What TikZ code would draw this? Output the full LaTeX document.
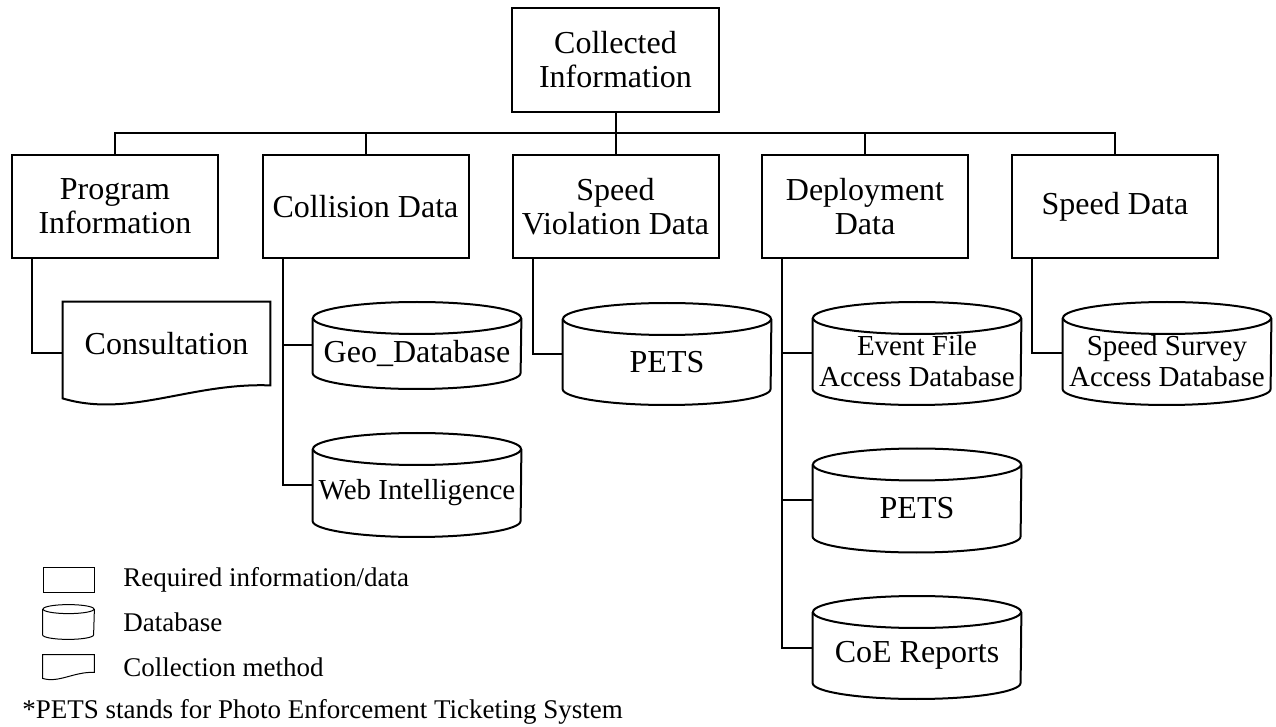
\documentclass[tikz,border=0pt]{standalone}
\usepackage{fontspec}
\setmainfont{Liberation Serif}

\tikzset{
  infobox/.style={draw, line width=1pt, minimum width=103pt, minimum height=51.5pt,
    inner sep=2pt, align=center, font=\fontsize{16}{17}\selectfont},
  dbase/.style={minimum width=104pt, inner sep=0pt, align=center,
    font=\fontsize{16}{17}\selectfont},
  smalltext/.style={font=\fontsize{14.5}{15.5}\selectfont},
  method/.style={minimum width=103.5pt, minimum height=41.5pt, inner sep=2pt,
    font=\fontsize{16}{17}\selectfont},
  link/.style={line width=1pt},
  keytext/.style={anchor=west, inner sep=0pt, font=\fontsize{13.5}{15}\selectfont}
}

\begin{document}
\begin{tikzpicture}[x=0.5pt, y=-0.5pt]
  \useasboundingbox (0,0) rectangle (1276,727);
  % top of the tree
  \node[infobox, minimum width=103.5pt, minimum height=52pt] (root) at (615.5,60) {Collected\\Information};
  \node[infobox] (prog) at (115,206.5) {Program\\Information};
  \node[infobox] (coll) at (365.5,206.5) {Collision Data};
  \node[infobox] (viol) at (615.5,206.5) {Speed\\Violation Data};
  \node[infobox] (depl) at (865,206.5) {Deployment\\Data};
  \node[infobox] (speed) at (1115,206.5) {Speed Data};
  \coordinate (bus) at (615.5,133);
  \draw[link] (root.south) -- (bus);
  \draw[link] (prog.north) |- (bus) -| (speed.north);
  \foreach \n in {coll,viol,depl}
    \draw[link] (\n.north) -- (\n.north |- bus);

  % collection method
  \node[method] (cons) at (166.5,343.5) {Consultation};
  \draw[link] (cons.north west) -- (cons.north east) -- (cons.south east)
    .. controls +(-40pt,1.5pt) and +(33.5pt,-10pt) .. ([yshift=-6.5pt]cons.south west) -- cycle;
  \draw[link] ([xshift=10.5pt]prog.south west) |- ([yshift=-5pt]cons.west);

  % databases (text sits 4pt below the middle of each drum)
  \node[dbase] (geo) at (417,353.5) {Geo\_Database};
  \node[dbase, smalltext] (web) at (417,493) {Web Intelligence};
  \node[dbase] (pets) at (667,362) {PETS};
  \node[dbase, smalltext] (event) at (917,361.5) {Event File\\Access Database};
  \node[dbase] (petsb) at (917,508.5) {PETS};
  \node[dbase] (coe) at (917,655.5) {CoE Reports};
  \node[dbase, smalltext] (survey) at (1167,361.5) {Speed Survey\\Access Database};
  \foreach \n/\h in {geo/21.75, web/26, pets/25.5, event/25.75, petsb/26, coe/25.75, survey/25.75} {
    \draw[link] ([yshift=\h pt-4pt]\n.west) -- ([yshift=12pt-\h pt]\n.west)
      arc[start angle=180, end angle=360, x radius=52pt, y radius=8pt]
      -- ([yshift=\h pt-4pt]\n.east);
    \draw[link] ([yshift=\h pt-4pt]\n.center) ellipse[x radius=52pt, y radius=8pt];
  }
  \draw[link] ([xshift=10.5pt]coll.south west) |- ([yshift=4pt]geo.west);
  \draw[link] ([xshift=10.5pt]coll.south west) |- ([yshift=4pt]web.west);
  \draw[link] ([xshift=10.5pt]viol.south west) |- ([yshift=4pt]pets.west);
  \draw[link] ([xshift=10.5pt]depl.south west) |- ([yshift=4pt]event.west);
  \draw[link] ([xshift=10.5pt]depl.south west) |- ([yshift=4pt]petsb.west);
  \draw[link] ([xshift=10.5pt]depl.south west) |- ([yshift=4pt]coe.west);
  \draw[link] ([xshift=10.5pt]speed.south west) |- ([yshift=4pt]survey.west);

  % key
  \node[draw, line width=0.5pt, minimum width=25.5pt, minimum height=12.5pt, inner sep=0pt] (keybox) at (68.5,579.5) {};
  \node[keytext] (keyboxtext) at (123,580) {Required information/data};
  \node[minimum width=25.5pt, minimum height=17pt, inner sep=0pt] (keydb) at (68.5,622) {};
  \draw[line width=0.5pt] ([yshift=-2.25pt]keydb.north west) -- ([yshift=2.25pt]keydb.south west)
    arc[start angle=180, end angle=360, x radius=12.75pt, y radius=2.25pt] -- ([yshift=-2.25pt]keydb.north east);
  \draw[line width=0.5pt] ([yshift=-2.25pt]keydb.north) ellipse[x radius=12.75pt, y radius=2.25pt];
  \node[keytext] (keydbtext) at (123,622) {Database};
  \node[minimum width=25.5pt, minimum height=8.5pt, inner sep=0pt] (keydoc) at (68.5,663.5) {};
  \draw[line width=0.5pt] (keydoc.north west) -- (keydoc.north east) -- (keydoc.south east)
    .. controls +(-10pt,0.5pt) and +(8pt,-2.5pt) .. ([yshift=-3pt]keydoc.south west) -- cycle;
  \node[keytext] (keydoctext) at (123,667) {Collection method};
  \node[keytext] (note) at (22,712) {*PETS stands for Photo Enforcement Ticketing System};
\end{tikzpicture}
\end{document}
